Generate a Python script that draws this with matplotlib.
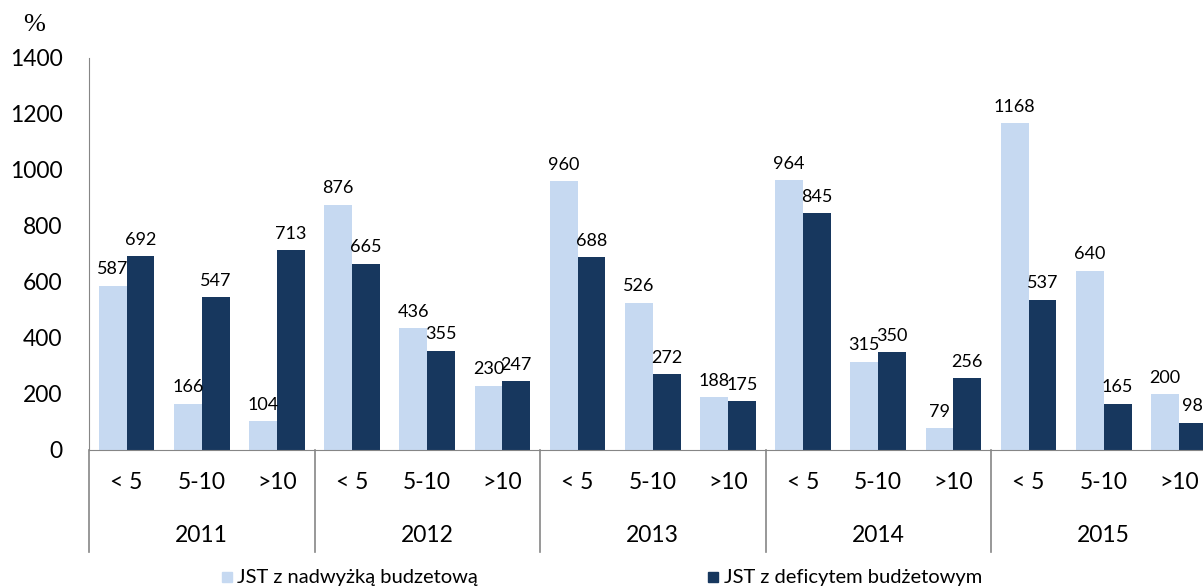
import matplotlib
matplotlib.use("Agg")
import matplotlib.pyplot as plt
import matplotlib.transforms as mtransforms
from matplotlib.lines import Line2D
from matplotlib.patches import Rectangle
import numpy as np

years = ["2011", "2012", "2013", "2014", "2015"]
bands = ["< 5", "5-10", ">10"]
surplus = [587, 166, 104, 876, 436, 230, 960, 526, 188, 964, 315, 79, 1168, 640, 200]
deficit = [692, 547, 713, 665, 355, 247, 688, 272, 175, 845, 350, 256, 537, 165, 98]
series_names = ["JST z nadwyżką budzetową", "JST z deficytem budżetowym"]

LIGHT = "#C6D9F1"
DARK = "#17375E"
GRID = "#868686"

plt.rcParams["font.family"] = ["Lato", "DejaVu Sans"]

W, H = 1203, 586
fig = plt.figure(figsize=(W / 100, H / 100), dpi=100)
# axes run off the right edge like in the source chart
ax = fig.add_axes([89 / W, 1 - 450 / H, 1127.5 / W, 392 / H])

n = len(surplus)
x = np.arange(n)
bw = 0.37
ax.bar(x - bw / 2, surplus, bw, color=LIGHT, zorder=2)
ax.bar(x + bw / 2, deficit, bw, color=DARK, zorder=2)

for xi, v in zip(x - bw / 2, surplus):
    ax.annotate(str(v), (xi, v), xytext=(0, 6), textcoords="offset points",
                ha="center", va="bottom", fontsize=13)
for xi, v in zip(x + bw / 2, deficit):
    ax.annotate(str(v), (xi, v), xytext=(0, 6), textcoords="offset points",
                ha="center", va="bottom", fontsize=13)

ax.set_xlim(-0.5, n - 0.5)
ax.set_ylim(0, 1400)
ax.set_yticks(np.arange(0, 1401, 200))
ax.tick_params(axis="y", length=0, pad=19, labelsize=16.5)
ax.set_xticks([])
for side in ["top", "right"]:
    ax.spines[side].set_visible(False)
ax.spines["left"].set_color(GRID)
ax.spines["bottom"].set_color(GRID)

# two-level category axis
trans = mtransforms.blended_transform_factory(ax.transData, ax.transAxes)
for i in range(n):
    ax.text(i, -0.084, bands[i % 3], transform=trans, ha="center", va="center", fontsize=16.5)
for g, yr in enumerate(years):
    ax.text(g * 3 + 1, -0.217, yr, transform=trans, ha="center", va="center", fontsize=16.5)
for b in range(len(years) + 1):
    ax.add_line(Line2D([b * 3 - 0.5] * 2, [0, -0.26], transform=trans,
                       color=GRID, linewidth=1.2, clip_on=False))

fig.text(34 / W, 1 - 25 / H, "%", family="Liberation Serif", fontsize=19,
         ha="center", va="center")

# legend
for (sx, tx), col, name in zip([(222, 237), (708, 724)], [LIGHT, DARK], series_names):
    fig.patches.append(Rectangle((sx / W, 1 - 582 / H), 10 / W, 10 / H,
                                 transform=fig.transFigure, color=col))
    fig.text(tx / W, 1 - 577 / H, name, fontsize=14.5, ha="left", va="center")

fig.savefig("out.png", dpi=100)
